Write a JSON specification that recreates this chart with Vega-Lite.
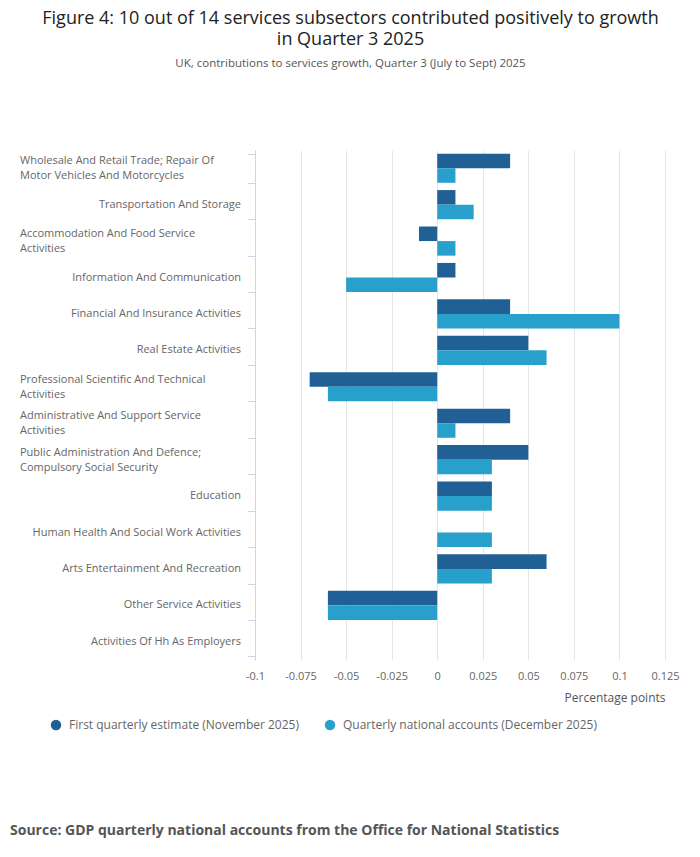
{
  "$schema": "https://vega.github.io/schema/vega-lite/v6.json",
  "padding": {"left": 10, "top": 9, "right": 5, "bottom": 5},
  "background": "white",
  "title": {
    "text": ["Figure 4: 10 out of 14 services subsectors contributed positively to growth", "in Quarter 3 2025"],
    "subtitle": "UK, contributions to services growth, Quarter 3 (July to Sept) 2025",
    "anchor": "middle",
    "dx": 6,
    "font": "Open Sans",
    "fontSize": 18,
    "fontWeight": "normal",
    "color": "#222222",
    "lineHeight": 21,
    "subtitleFont": "Open Sans",
    "subtitleFontSize": 11.5,
    "subtitleColor": "#555555",
    "subtitlePadding": 9,
    "offset": 81
  },
  "spacing": 120,
  "vconcat": [
    {
      "hconcat": [
        {
          "width": 221,
          "height": 510,
          "data": {
            "values": [
              {"sector": "Wholesale And Retail Trade; Repair Of Motor Vehicles And Motorcycles", "label": "Wholesale And Retail Trade; Repair Of\nMotor Vehicles And Motorcycles"},
              {"sector": "Transportation And Storage", "label": "Transportation And Storage"},
              {"sector": "Accommodation And Food Service Activities", "label": "Accommodation And Food Service\nActivities"},
              {"sector": "Information And Communication", "label": "Information And Communication"},
              {"sector": "Financial And Insurance Activities", "label": "Financial And Insurance Activities"},
              {"sector": "Real Estate Activities", "label": "Real Estate Activities"},
              {"sector": "Professional Scientific And Technical Activities", "label": "Professional Scientific And Technical\nActivities"},
              {"sector": "Administrative And Support Service Activities", "label": "Administrative And Support Service\nActivities"},
              {"sector": "Public Administration And Defence; Compulsory Social Security", "label": "Public Administration And Defence;\nCompulsory Social Security"},
              {"sector": "Education", "label": "Education"},
              {"sector": "Human Health And Social Work Activities", "label": "Human Health And Social Work Activities"},
              {"sector": "Arts Entertainment And Recreation", "label": "Arts Entertainment And Recreation"},
              {"sector": "Other Service Activities", "label": "Other Service Activities"},
              {"sector": "Activities Of Hh As Employers", "label": "Activities Of Hh As Employers"}
            ]
          },
          "encoding": {
            "y": {
              "field": "sector",
              "type": "nominal",
              "sort": ["Wholesale And Retail Trade; Repair Of Motor Vehicles And Motorcycles", "Transportation And Storage", "Accommodation And Food Service Activities", "Information And Communication", "Financial And Insurance Activities", "Real Estate Activities", "Professional Scientific And Technical Activities", "Administrative And Support Service Activities", "Public Administration And Defence; Compulsory Social Security", "Education", "Human Health And Social Work Activities", "Arts Entertainment And Recreation", "Other Service Activities", "Activities Of Hh As Employers"],
              "scale": {"paddingInner": 0.2, "paddingOuter": 0.1},
              "axis": null
            },
            "text": {"field": "label"}
          },
          "layer": [
            {
              "transform": [{"filter": "indexof(datum.label, '\\n') >= 0"}],
              "mark": {"type": "text", "align": "left", "baseline": "line-bottom", "lineHeight": 15, "lineBreak": "\n", "font": "Open Sans", "fontSize": 11, "color": "#666666"},
              "encoding": {
                "x": {"datum": 0, "type": "quantitative", "scale": {"domain": [0, 1]}, "axis": null}
              }
            },
            {
              "transform": [{"filter": "indexof(datum.label, '\\n') < 0"}],
              "mark": {"type": "text", "align": "right", "baseline": "middle", "font": "Open Sans", "fontSize": 11, "color": "#666666"},
              "encoding": {
                "x": {"datum": 1, "type": "quantitative", "scale": {"domain": [0, 1]}, "axis": null}
              }
            }
          ]
        },
        {
          "width": 410,
          "height": 510,
          "data": {
            "values": [
              {"sector": "Wholesale And Retail Trade; Repair Of Motor Vehicles And Motorcycles", "series": "First quarterly estimate (November 2025)", "value": 0.04},
              {"sector": "Wholesale And Retail Trade; Repair Of Motor Vehicles And Motorcycles", "series": "Quarterly national accounts (December 2025)", "value": 0.01},
              {"sector": "Transportation And Storage", "series": "First quarterly estimate (November 2025)", "value": 0.01},
              {"sector": "Transportation And Storage", "series": "Quarterly national accounts (December 2025)", "value": 0.02},
              {"sector": "Accommodation And Food Service Activities", "series": "First quarterly estimate (November 2025)", "value": -0.01},
              {"sector": "Accommodation And Food Service Activities", "series": "Quarterly national accounts (December 2025)", "value": 0.01},
              {"sector": "Information And Communication", "series": "First quarterly estimate (November 2025)", "value": 0.01},
              {"sector": "Information And Communication", "series": "Quarterly national accounts (December 2025)", "value": -0.05},
              {"sector": "Financial And Insurance Activities", "series": "First quarterly estimate (November 2025)", "value": 0.04},
              {"sector": "Financial And Insurance Activities", "series": "Quarterly national accounts (December 2025)", "value": 0.1},
              {"sector": "Real Estate Activities", "series": "First quarterly estimate (November 2025)", "value": 0.05},
              {"sector": "Real Estate Activities", "series": "Quarterly national accounts (December 2025)", "value": 0.06},
              {"sector": "Professional Scientific And Technical Activities", "series": "First quarterly estimate (November 2025)", "value": -0.07},
              {"sector": "Professional Scientific And Technical Activities", "series": "Quarterly national accounts (December 2025)", "value": -0.06},
              {"sector": "Administrative And Support Service Activities", "series": "First quarterly estimate (November 2025)", "value": 0.04},
              {"sector": "Administrative And Support Service Activities", "series": "Quarterly national accounts (December 2025)", "value": 0.01},
              {"sector": "Public Administration And Defence; Compulsory Social Security", "series": "First quarterly estimate (November 2025)", "value": 0.05},
              {"sector": "Public Administration And Defence; Compulsory Social Security", "series": "Quarterly national accounts (December 2025)", "value": 0.03},
              {"sector": "Education", "series": "First quarterly estimate (November 2025)", "value": 0.03},
              {"sector": "Education", "series": "Quarterly national accounts (December 2025)", "value": 0.03},
              {"sector": "Human Health And Social Work Activities", "series": "First quarterly estimate (November 2025)", "value": 0},
              {"sector": "Human Health And Social Work Activities", "series": "Quarterly national accounts (December 2025)", "value": 0.03},
              {"sector": "Arts Entertainment And Recreation", "series": "First quarterly estimate (November 2025)", "value": 0.06},
              {"sector": "Arts Entertainment And Recreation", "series": "Quarterly national accounts (December 2025)", "value": 0.03},
              {"sector": "Other Service Activities", "series": "First quarterly estimate (November 2025)", "value": -0.06},
              {"sector": "Other Service Activities", "series": "Quarterly national accounts (December 2025)", "value": -0.06},
              {"sector": "Activities Of Hh As Employers", "series": "First quarterly estimate (November 2025)", "value": 0},
              {"sector": "Activities Of Hh As Employers", "series": "Quarterly national accounts (December 2025)", "value": 0}
            ]
          },
          "mark": {"type": "bar"},
          "encoding": {
            "y": {
              "field": "sector",
              "type": "nominal",
              "sort": ["Wholesale And Retail Trade; Repair Of Motor Vehicles And Motorcycles", "Transportation And Storage", "Accommodation And Food Service Activities", "Information And Communication", "Financial And Insurance Activities", "Real Estate Activities", "Professional Scientific And Technical Activities", "Administrative And Support Service Activities", "Public Administration And Defence; Compulsory Social Security", "Education", "Human Health And Social Work Activities", "Arts Entertainment And Recreation", "Other Service Activities", "Activities Of Hh As Employers"],
              "scale": {"paddingInner": 0.2, "paddingOuter": 0.1},
              "axis": {
                "title": null,
                "domain": true,
                "domainColor": "#ccd6eb",
                "ticks": true,
                "tickColor": "#ccd6eb",
                "tickSize": 8,
                "tickBand": "extent",
                "grid": false,
                "labels": false
              }
            },
            "yOffset": {
              "field": "series",
              "type": "nominal",
              "sort": ["First quarterly estimate (November 2025)", "Quarterly national accounts (December 2025)"]
            },
            "x": {
              "field": "value",
              "type": "quantitative",
              "scale": {"domain": [-0.1, 0.125], "nice": false, "zero": false},
              "axis": {
                "values": [-0.1, -0.075, -0.05, -0.025, 0, 0.025, 0.05, 0.075, 0.1, 0.125],
                "labelExpr": "'' + datum.value",
                "labelFlush": false,
                "domain": false,
                "ticks": false,
                "grid": true,
                "gridColor": "#e6e6e6",
                "labelFont": "Open Sans",
                "labelFontSize": 11,
                "labelColor": "#666666",
                "labelPadding": 10,
                "title": "Percentage points",
                "titleAnchor": "end",
                "titleFont": "Open Sans",
                "titleFontSize": 12,
                "titleFontWeight": "normal",
                "titleColor": "#555555",
                "titlePadding": 11
              }
            },
            "color": {
              "field": "series",
              "type": "nominal",
              "scale": {
                "domain": ["First quarterly estimate (November 2025)", "Quarterly national accounts (December 2025)"],
                "range": ["#206095", "#27a0cc"]
              },
              "legend": {
                "title": null,
                "orient": "none",
                "legendX": 30,
                "legendY": 569,
                "direction": "horizontal",
                "symbolType": "circle",
                "symbolSize": 110,
                "symbolOpacity": 1,
                "symbolStrokeWidth": 0,
                "labelFont": "Open Sans",
                "labelFontSize": 12,
                "labelColor": "#666666",
                "labelOffset": 7,
                "labelLimit": 400,
                "columnPadding": 25
              }
            }
          }
        }
      ],
      "bounds": "flush",
      "spacing": 14,
      "resolve": {"scale": {"y": "independent", "x": "independent"}}
    },
    {
      "width": 410,
      "height": 1,
      "data": {"values": [{"t": ""}]},
      "mark": {"type": "text"},
      "encoding": {"text": {"field": "t"}},
      "title": {
        "text": "Source: GDP quarterly national accounts from the Office for National Statistics",
        "anchor": "start",
        "dx": -10,
        "font": "Open Sans",
        "fontSize": 14,
        "fontWeight": "bold",
        "color": "#555555"
      }
    }
  ],
  "config": {"view": {"stroke": null}, "font": "Open Sans"}
}
